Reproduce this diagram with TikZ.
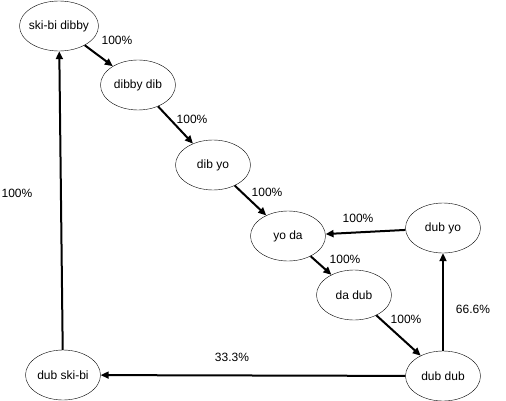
\documentclass[tikz,border=0pt]{standalone}
\usepackage{fontspec}
\setmainfont{Liberation Sans}
\usetikzlibrary{arrows.meta, shapes.geometric}

\begin{document}
\begin{tikzpicture}[x=1pt, y=-1pt,
    every node/.style={font=\fontsize{12}{14}\selectfont},
    state/.style={draw, ellipse, thin, minimum height=50pt, inner xsep=-4pt, inner ysep=0pt},
    link/.style={line width=2pt, -{Triangle[length=8pt,width=7pt]}},
    lbl/.style={inner sep=0pt}]
    % Frame
    \useasboundingbox (0,0) rectangle (506,401);
    % States
    \foreach \n/\x/\y/\w/\t in {skibidibby/59/26/79/ski-bi dibby, dibbydib/138/85/75/dibby dib,
        dibyo/213/165/75/dib yo, yoda/288/236/75/yo da, dadub/354/295/75/da dub,
        dubyo/443/228/75/dub yo, dubdub/443/376/75/dub dub, dubskibi/63/375/75/dub ski-bi}
    {
        \node[state, minimum width=\w pt] (\n) at (\x,\y) {\t};
    }
    % Transitions with their odds
    \foreach \a/\b/\lx/\ly/\p in {skibidibby/dibbydib/117/40/100, dibbydib/dibyo/192/119/100,
        dibyo/yoda/267/192/100, yoda/dadub/345/259/100, dadub/dubdub/406/319/100,
        dubdub/dubyo/473/309/66.6, dubyo/yoda/358/218/100, dubdub/dubskibi/232/357/33.3,
        dubskibi/skibidibby/17/193/100}
    {
        \draw[link] (\a) -- (\b);
        \node[lbl] (l-\a-\b) at (\lx,\ly) {\p\%};
    }
\end{tikzpicture}
\end{document}
